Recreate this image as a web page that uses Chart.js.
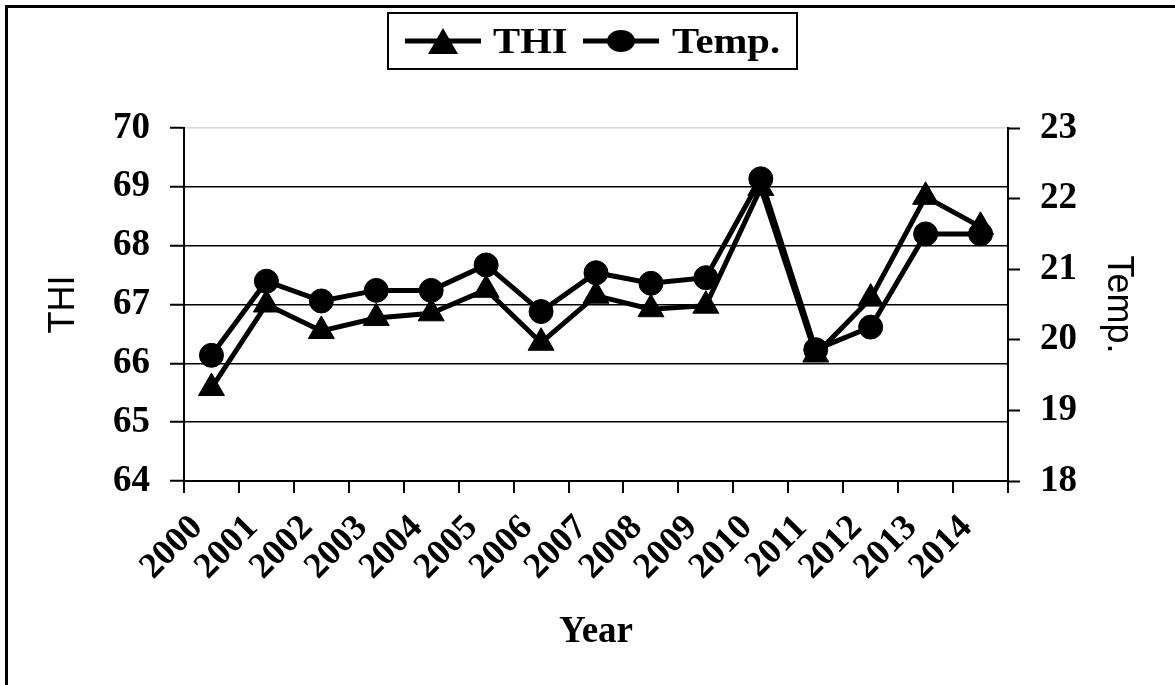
<!DOCTYPE html>
<html>
<head>
<meta charset="utf-8">
<script src="https://cdn.jsdelivr.net/npm/chart.js@4.4.1/dist/chart.umd.min.js"></script>
<style>
  html, body { margin: 0; padding: 0; background: #fff; overflow: hidden; }
  #wrap { position: relative; width: 1175px; height: 685px; }
  #frame { position: absolute; left: 5px; top: 5px; right: -10px; bottom: -10px; border-left: 3px solid #000; border-top: 3px solid #000; }
  #chart { position: absolute; left: 0; top: 0; }
  #legend { position: absolute; left: 387px; top: 12px; width: 411px; height: 58px; box-sizing: border-box;
    border: 2.5px solid #000; font: bold 36px "Liberation Serif", serif; color: #000; }
  #legend svg, #legend span { position: absolute; top: 50%; transform-origin: left center; }
  #legend svg { transform: translateY(-50%); }
  #legend span { transform: translateY(-50%) scaleX(1.13); line-height: 1; }
</style>
</head>
<body>
<div id="wrap">
  <div id="frame"></div>
  <canvas id="chart" width="1175" height="685"></canvas>
  <div id="legend"></div>
</div>
<script>
// --- Datos -----------------------------------------------------------------
const YEARS = ['2000', '2001', '2002', '2003', '2004', '2005', '2006', '2007',
  '2008', '2009', '2010', '2011', '2012', '2013', '2014'];
const THI = [65.58, 67.0, 66.55, 66.77, 66.85, 67.25, 66.35, 67.15, 66.92, 66.98, 68.98, 66.15, 67.1, 68.83, 68.32];
const TEMP = [19.78, 20.83, 20.55, 20.7, 20.7, 21.06, 20.4, 20.95, 20.8, 20.88, 22.28, 19.86, 20.18, 21.5, 21.5];
const THI_RANGE = [64, 70];
const TEMP_RANGE = [18, 23];

const SERIF = '"Liberation Serif", "Times New Roman", serif';
const SANS = '"Liberation Sans", Arial, sans-serif';

// --- Leyenda HTML (línea + marcador) ----------------------------------------
const marker = (shape, left) => {
  const m = shape === 'tri'
    ? '<polygon points="38,2 53,28 23,28" fill="#000"/>'
    : '<ellipse cx="38" cy="15" rx="14" ry="11" fill="#000"/>';
  return `<svg width="76" height="30" style="left:${left}px"><line x1="0" y1="15" x2="76" y2="15" stroke="#000" stroke-width="5"/>${m}</svg>`;
};
document.getElementById('legend').innerHTML =
  marker('tri', 16) + '<span style="left:104px">THI</span>' +
  marker('circ', 194) + '<span style="left:283px">Temp.</span>';

// --- Gráfico -----------------------------------------------------------------
new Chart(document.getElementById('chart'), {
  type: 'line',
  data: {
    labels: YEARS,
    datasets: [
      { label: 'THI', data: THI, yAxisID: 'y', order: 2, borderColor: '#000', borderWidth: 5,
        pointStyle: 'triangle', pointRadius: 15, pointBackgroundColor: '#000', pointBorderColor: '#000', pointBorderWidth: 1, tension: 0 },
      { label: 'Temp.', data: TEMP, yAxisID: 'y1', order: 1, borderColor: '#000', borderWidth: 5,
        pointStyle: 'circle', pointRadius: 12, pointBackgroundColor: '#000', pointBorderColor: '#000', pointBorderWidth: 1, tension: 0 },
    ],
  },
  options: {
    responsive: false, animation: false, devicePixelRatio: 1,
    layout: { padding: { top: 128, left: 0, right: 0, bottom: 0 } },
    plugins: { legend: { display: false }, tooltip: { enabled: false } },
    scales: {
      x: {
        offset: true,
        afterFit: (s) => { s.height = 204; },
        grid: { offset: true, drawOnChartArea: false, tickLength: 12, tickColor: '#000', lineWidth: 2 },
        border: { color: '#000', width: 2 },
        ticks: { color: '#000', font: { family: SERIF, weight: 'bold', size: 36 }, maxRotation: 45, minRotation: 45,
          autoSkip: false, padding: 14, labelOffset: -14 },
        title: { display: true, text: 'Year', color: '#000', font: { family: SERIF, weight: 'bold', size: 37 }, padding: { top: 0, bottom: 30 } },
      },
      y: {
        position: 'left', min: THI_RANGE[0], max: THI_RANGE[1],
        afterFit: (s) => { s.width = 184; },
        grid: { color: (c) => (c.tick && c.tick.value === THI_RANGE[1] ? '#d8d8d8' : '#000'), lineWidth: 1.5, tickLength: 14, tickColor: '#000', tickWidth: 2 },
        border: { color: '#000', width: 2 },
        ticks: { stepSize: 1, color: '#000', font: { family: SERIF, weight: 'bold', size: 37 }, padding: 20 },
        title: { display: true, text: 'THI', color: '#000', font: { family: SANS, size: 36 }, padding: { top: 42 } },
      },
      y1: {
        position: 'right', min: TEMP_RANGE[0], max: TEMP_RANGE[1],
        afterFit: (s) => { s.width = 167; },
        grid: { drawOnChartArea: false, tickLength: 12, tickColor: '#000', tickWidth: 2 },
        border: { color: '#000', width: 2 },
        ticks: { stepSize: 1, color: '#000', font: { family: SERIF, weight: 'bold', size: 37 }, padding: 20 },
        title: { display: true, text: 'Temp.', color: '#000', font: { family: SANS, size: 36 }, padding: { top: 35 } },
      },
    },
  },
});
</script>
</body>
</html>
